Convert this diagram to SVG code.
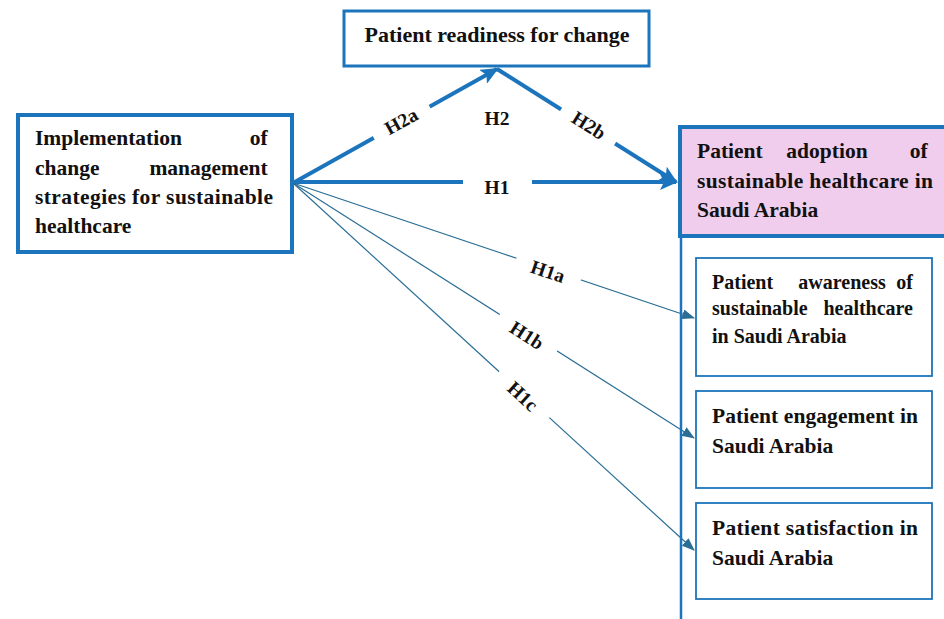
<svg xmlns="http://www.w3.org/2000/svg" width="944" height="619" viewBox="0 0 944 619">
<style>
text{font-family:'Liberation Serif','Times New Roman',serif;font-weight:bold;fill:#111;}
.box{fill:#fff;stroke:#1c75bc;}
.lab{font-size:19.5px;text-anchor:middle;}
.thick{stroke:#1c75bc;stroke-width:4;fill:none;}
.thin{stroke:#2a6e95;stroke-width:1.2;fill:none;}
</style>
<defs>
<marker id="ah" markerUnits="userSpaceOnUse" markerWidth="18" markerHeight="16" refX="16" refY="8" orient="auto">
<path d="M0,0 L18,8 L0,16 L4,8 z" fill="#1c75bc"/>
</marker>
<marker id="at" markerUnits="userSpaceOnUse" markerWidth="13" markerHeight="10" refX="12" refY="5" orient="auto">
<path d="M0,0 L13,5 L0,10 z" fill="#2a6e95"/>
</marker>
</defs>
<rect width="944" height="619" fill="#fff"/>

<g id="connectors">
<line class="thick" x1="293" y1="183" x2="497" y2="69" marker-end="url(#ah)"/>
<line class="thick" x1="497" y1="69" x2="676" y2="182" marker-end="url(#ah)"/>
<line class="thick" x1="293" y1="182" x2="676" y2="182" marker-end="url(#ah)"/>
<line class="thin" x1="293" y1="183" x2="694" y2="318" marker-end="url(#at)"/>
<line class="thin" x1="293" y1="183" x2="694" y2="438" marker-end="url(#at)"/>
<line class="thin" x1="293" y1="183" x2="694" y2="550" marker-end="url(#at)"/>
<g transform="translate(401,121) rotate(-29)"><rect x="-32" y="-14" width="64" height="28" fill="#fff"/><text class="lab" y="7">H2a</text></g>
<g transform="translate(589,125) rotate(32)"><rect x="-32" y="-14" width="64" height="28" fill="#fff"/><text class="lab" y="7">H2b</text></g>
<rect x="463" y="172" width="69" height="22" fill="#fff"/>
<text class="lab" x="497" y="194">H1</text>
<text class="lab" x="497" y="125">H2</text>
<g transform="translate(548,271) rotate(18.5)"><rect x="-34" y="-13" width="68" height="26" fill="#fff"/><text class="lab" y="7">H1a</text></g>
<g transform="translate(527,335) rotate(32.5)"><rect x="-34" y="-13" width="68" height="26" fill="#fff"/><text class="lab" y="7">H1b</text></g>
<g transform="translate(523,396) rotate(42.5)"><rect x="-34" y="-13" width="68" height="26" fill="#fff"/><text class="lab" y="7">H1c</text></g>
<line x1="681" y1="237" x2="681" y2="619" stroke="#1c75bc" stroke-width="2.5"/>
</g>

<g id="implementation">
<rect class="box" x="18" y="115" width="274" height="137" stroke-width="4"/>
<text font-size="21.5">
<tspan x="35" y="145">Implementation</tspan><tspan x="273" y="145" text-anchor="end">of</tspan>
<tspan x="35" y="175">change</tspan><tspan x="273" y="175" text-anchor="end">management</tspan>
<tspan x="35" y="204" textLength="238" lengthAdjust="spacing">strategies for sustainable</tspan>
<tspan x="35" y="233">healthcare</tspan>
</text>
</g>

<g id="readiness">
<rect class="box" x="344" y="11" width="305" height="55" stroke-width="3"/>
<text font-size="22" x="497" y="42" text-anchor="middle">Patient readiness for change</text>
</g>

<g id="adoption">
<rect x="680" y="127" width="270" height="109" fill="#f0cdec" stroke="#1c75bc" stroke-width="4"/>
<text font-size="21.5">
<tspan x="697" y="158">Patient</tspan><tspan x="827" y="158" text-anchor="middle">adoption</tspan><tspan x="933" y="158" text-anchor="end">of</tspan>
<tspan x="697" y="188" textLength="236" lengthAdjust="spacing">sustainable healthcare in</tspan>
<tspan x="697" y="217">Saudi Arabia</tspan>
</text>
</g>

<g id="awareness">
<rect class="box" x="696" y="258" width="236" height="118" stroke-width="1.8"/>
<text font-size="20">
<tspan x="712" y="289">Patient</tspan><tspan x="842" y="289" text-anchor="middle">awareness</tspan><tspan x="918" y="289" text-anchor="end">of</tspan>
<tspan x="712" y="315">sustainable</tspan><tspan x="918" y="315" text-anchor="end">healthcare</tspan>
<tspan x="712" y="343">in Saudi Arabia</tspan>
</text>
</g>

<g id="engagement">
<rect class="box" x="696" y="391" width="236" height="97" stroke-width="1.8"/>
<text font-size="21.5">
<tspan x="712" y="423" textLength="206" lengthAdjust="spacing">Patient engagement in</tspan>
<tspan x="712" y="453">Saudi Arabia</tspan>
</text>
</g>

<g id="satisfaction">
<rect class="box" x="696" y="503" width="236" height="96" stroke-width="1.8"/>
<text font-size="21.5">
<tspan x="712" y="535" textLength="206" lengthAdjust="spacing">Patient satisfaction in</tspan>
<tspan x="712" y="565">Saudi Arabia</tspan>
</text>
</g>
</svg>
